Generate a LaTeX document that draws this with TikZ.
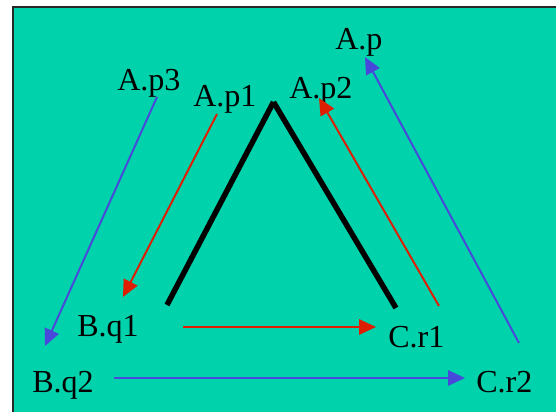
\documentclass[tikz,border=0pt]{standalone}
\usepackage{fontspec}
\setmainfont{Liberation Serif}
\usetikzlibrary{arrows.meta}
\definecolor{slide}{RGB}{0,210,172}
\definecolor{redline}{RGB}{222,30,0}
\definecolor{blueline}{RGB}{72,72,218}
\definecolor{frame}{RGB}{40,40,40}

\begin{document}
\begin{tikzpicture}[>={Triangle[length=0.42cm, width=0.38cm]},
    lbl/.style={anchor=base west, inner sep=0pt, font=\fontsize{22.8}{27}\selectfont},
    redarrow/.style={->, draw=redline, fill=redline, line width=1.4pt},
    bluearrow/.style={->, draw=blueline, fill=blueline, line width=1.4pt}]
    \clip (0, 0) rectangle (13.9, 10.3);

    % Slide
    \filldraw[fill=slide, draw=frame, line width=1.2pt] (0.3175, -1) rectangle (15, 10.1325);

    % Labels
    \node[lbl] (ap)  at (8.375, 9.05)  {A.p};
    \node[lbl] (ap3) at (2.925, 8.025) {A.p3};
    \node[lbl] (ap1) at (4.825, 7.625) {A.p1};
    \node[lbl] (ap2) at (7.225, 7.825) {A.p2};
    \node[lbl] (bq1) at (1.925, 1.875) {B.q1};
    \node[lbl] (cr1) at (9.7, 1.6)     {C.r1};
    \node[lbl] (bq2) at (0.8, 0.475)   {B.q2};
    \node[lbl] (cr2) at (11.9, 0.475)  {C.r2};

    % Triangle
    \coordinate (top) at (6.8375, 7.75);
    \coordinate (bl) at (4.175, 2.675);
    \coordinate (br) at (9.9, 2.6);
    \draw[line width=3.9pt] (bl) -- (top);
    \draw[line width=3.9pt] (top) -- (br);

    % Arrow ends
    \coordinate (ap1s) at (5.425, 7.45);
    \coordinate (bq1e) at (3.075, 2.875);
    \coordinate (cr1s) at (10.975, 2.65);
    \coordinate (ap2e) at (7.975, 7.85);
    \coordinate (bq1s) at (4.575, 2.125);
    \coordinate (cr1e) at (9.4, 2.125);
    \coordinate (ap3s) at (3.925, 7.875);
    \coordinate (bq2e) at (1.125, 1.65);
    \coordinate (cr2s) at (12.975, 1.725);
    \coordinate (ape)  at (9.125, 8.875);
    \coordinate (bq2s) at (2.85, 0.85);
    \coordinate (cr2e) at (11.625, 0.85);

    % Inner (red)
    \draw[redarrow] (ap1s) -- (bq1e);
    \draw[redarrow] (bq1s) -- (cr1e);
    \draw[redarrow] (cr1s) -- (ap2e);

    % Outer (blue)
    \draw[bluearrow] (ap3s) -- (bq2e);
    \draw[bluearrow] (bq2s) -- (cr2e);
    \draw[bluearrow] (cr2s) -- (ape);
\end{tikzpicture}
\end{document}
